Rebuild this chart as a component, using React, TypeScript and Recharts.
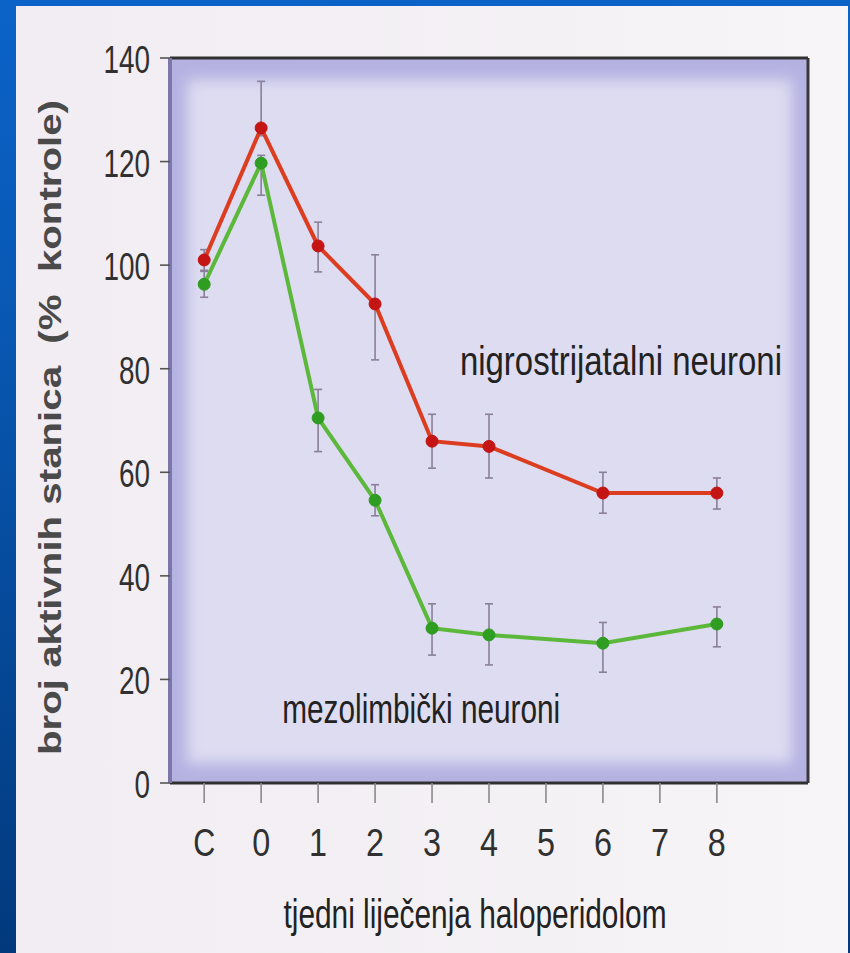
import {
  ErrorBar,
  Label,
  Line,
  LineChart,
  ReferenceArea,
  ReferenceDot,
  XAxis,
  YAxis,
} from "recharts";

// weeks of haloperidol treatment ("C" = control)
const weekLabels = ["C", "0", "1", "2", "3", "4", "6", "8"];
const weekPositions = [-1, 0, 1, 2, 3, 4, 6, 8];

const xTickLabels = ["C", "0", "1", "2", "3", "4", "5", "6", "7", "8"];
const xTickPositions = [-1, 0, 1, 2, 3, 4, 5, 6, 7, 8];
const yTicks = [0, 20, 40, 60, 80, 100, 120, 140];

// % of control, [minus, plus] error
const nigroValues = [101, 126.5, 103.7, 92.5, 66, 65, 56, 56];
const nigroErrors = [
  [2, 2],
  [1.5, 9],
  [5, 4.6],
  [10.8, 9.5],
  [5.2, 5.2],
  [6.1, 6.2],
  [3.9, 4],
  [3.1, 2.9],
];
const mezoValues = [96.3, 119.7, 70.5, 54.6, 29.9, 28.6, 27, 30.7];
const mezoErrors = [
  [2.5, 2.5],
  [6.2, 1.5],
  [6.5, 5.5],
  [3, 3],
  [5.2, 4.7],
  [5.8, 6],
  [5.6, 4],
  [4.4, 3.3],
];

const data = weekLabels.map((week, i) => ({
  week,
  x: weekPositions[i],
  nigro: nigroValues[i],
  nigroErr: nigroErrors[i],
  mezo: mezoValues[i],
  mezoErr: mezoErrors[i],
}));

const XMIN = -1.6;
const XMAX = 9.6;
const FONT = "'Liberation Sans Narrow', 'Arial Narrow', 'Liberation Sans', Arial, sans-serif";
const TEXT = "#303030";

function XTick({ x, y, payload }: any) {
  const label = xTickLabels[xTickPositions.indexOf(payload.value)];
  return (
    <text
      x={x}
      y={y + 49}
      textAnchor="middle"
      fontSize={39}
      fontFamily={FONT}
      fill={TEXT}
      textLength={label === "C" ? 22 : 18}
      lengthAdjust="spacingAndGlyphs"
    >
      {label}
    </text>
  );
}

function YTick({ x, y, payload }: any) {
  const label = String(payload.value);
  return (
    <text
      x={x}
      y={y + 15}
      textAnchor="end"
      fontSize={39}
      fontFamily={FONT}
      fill={TEXT}
      textLength={label.length * 15.5}
      lengthAdjust="spacingAndGlyphs"
    >
      {label}
    </text>
  );
}

function note(text: string, width: number) {
  return ({ viewBox }: any) => (
    <text
      x={viewBox.x}
      y={viewBox.y}
      fontSize={40}
      fontFamily={FONT}
      fill="#222"
      textLength={width}
      lengthAdjust="spacingAndGlyphs"
    >
      {text}
    </text>
  );
}

export default function App() {
  return (
    <div
      style={{
        position: "absolute",
        left: 0,
        top: 0,
        width: 850,
        height: 953,
        overflow: "hidden",
        background: "linear-gradient(180deg, #0b63c8 0%, #0857b2 35%, #02397c 100%)",
      }}
    >
      <div
        style={{
          position: "absolute",
          left: 16,
          top: 6,
          width: 832,
          height: 947,
          background: "linear-gradient(90deg, #f1edf2 0%, #f4f1f5 60%, #f7f5f8 100%)",
        }}
      />
      <LineChart
        width={850}
        height={953}
        data={data}
        margin={{ top: 58, right: 42, bottom: 110, left: 50 }}
        style={{ position: "absolute", left: 0, top: 0 }}
      >
        <defs>
          <filter id="soften" x="-10%" y="-10%" width="120%" height="120%">
            <feGaussianBlur stdDeviation="7" />
          </filter>
        </defs>

        <XAxis
          dataKey="x"
          type="number"
          domain={[XMIN, XMAX]}
          ticks={xTickPositions}
          allowDataOverflow
          height={60}
          tickSize={20}
          tickMargin={4}
          tick={<XTick />}
          tickLine={{ stroke: "#8a8a8a", strokeWidth: 1.6 }}
          axisLine={{ stroke: "#303030", strokeWidth: 3 }}
        >
          <Label
            content={({ viewBox }: any) => (
              <text
                x={viewBox.x + viewBox.width / 2 - 14}
                y={viewBox.y + 145}
                textAnchor="middle"
                fontSize={40}
                fontFamily={FONT}
                fill="#222"
                textLength={383}
                lengthAdjust="spacingAndGlyphs"
              >
                tjedni liječenja haloperidolom
              </text>
            )}
          />
        </XAxis>
        <XAxis
          xAxisId="top"
          orientation="top"
          dataKey="x"
          type="number"
          domain={[XMIN, XMAX]}
          ticks={xTickPositions}
          allowDataOverflow
          mirror
          tick={false}
          tickSize={15}
          tickLine={{ stroke: "#6a6a80", strokeWidth: 1.6 }}
          axisLine={{ stroke: "#303030", strokeWidth: 3 }}
        />
        <YAxis
          type="number"
          domain={[0, 140]}
          ticks={yTicks}
          width={120}
          tickSize={10}
          tickMargin={10}
          tick={<YTick />}
          tickLine={{ stroke: "#555", strokeWidth: 1.6 }}
          axisLine={{ stroke: "#7a78a6", strokeWidth: 4 }}
        >
          <Label
            content={({ viewBox }: any) => {
              const cx = viewBox.x + 11;
              const cy = viewBox.y + viewBox.height / 2 + 7;
              return (
                <text
                  x={cx}
                  y={cy}
                  transform={`rotate(-90 ${cx} ${cy})`}
                  textAnchor="middle"
                  fontSize={31}
                  fontWeight="bold"
                  fontFamily="'Liberation Sans', Arial, sans-serif"
                  fill="#4a4a4a"
                  textLength={655}
                  lengthAdjust="spacingAndGlyphs"
                  style={{ whiteSpace: "pre" }}
                >
                  {"broj aktivnih stanica  (%  kontrole)"}
                </text>
              );
            }}
          />
        </YAxis>
        <YAxis
          yAxisId="right"
          orientation="right"
          type="number"
          domain={[0, 140]}
          ticks={yTicks}
          mirror
          tick={false}
          tickSize={12}
          tickLine={{ stroke: "#404040", strokeWidth: 1.8 }}
          axisLine={{ stroke: "#383838", strokeWidth: 3 }}
        />

        <ReferenceArea
          x1={XMIN}
          x2={XMAX}
          y1={0}
          y2={140}
          fill="#b5b2e2"
          fillOpacity={1}
          stroke="none"
        />
        <ReferenceArea
          x1={XMIN + 0.3}
          x2={XMAX - 0.28}
          y1={3.8}
          y2={135.8}
          stroke="none"
          shape={(p: any) => (
            <rect
              x={p.x}
              y={p.y}
              width={p.width}
              height={p.height}
              fill="#dddcf1"
              filter="url(#soften)"
            />
          )}
        />

        <ReferenceDot x={3.49} y={78.8} r={0} stroke="none" fill="none">
          <Label content={note("nigrostrijatalni neuroni", 322)} />
        </ReferenceDot>
        <ReferenceDot x={0.37} y={11.6} r={0} stroke="none" fill="none">
          <Label content={note("mezolimbički neuroni", 278)} />
        </ReferenceDot>

        <Line
          dataKey="mezo"
          stroke="#5cb83a"
          strokeWidth={4}
          dot={{ r: 6, fill: "#2f9c22", stroke: "#2f9c22", strokeWidth: 1 }}
          isAnimationActive={false}
        >
          <ErrorBar
            dataKey="mezoErr"
            direction="y"
            width={4}
            stroke="#8a8098"
            strokeWidth={1.6}
          />
        </Line>
        <Line
          dataKey="nigro"
          stroke="#dc3d20"
          strokeWidth={4}
          dot={{ r: 6, fill: "#c41414", stroke: "#c41414", strokeWidth: 1 }}
          isAnimationActive={false}
        >
          <ErrorBar
            dataKey="nigroErr"
            direction="y"
            width={4}
            stroke="#8a8098"
            strokeWidth={1.6}
          />
        </Line>
      </LineChart>
    </div>
  );
}
